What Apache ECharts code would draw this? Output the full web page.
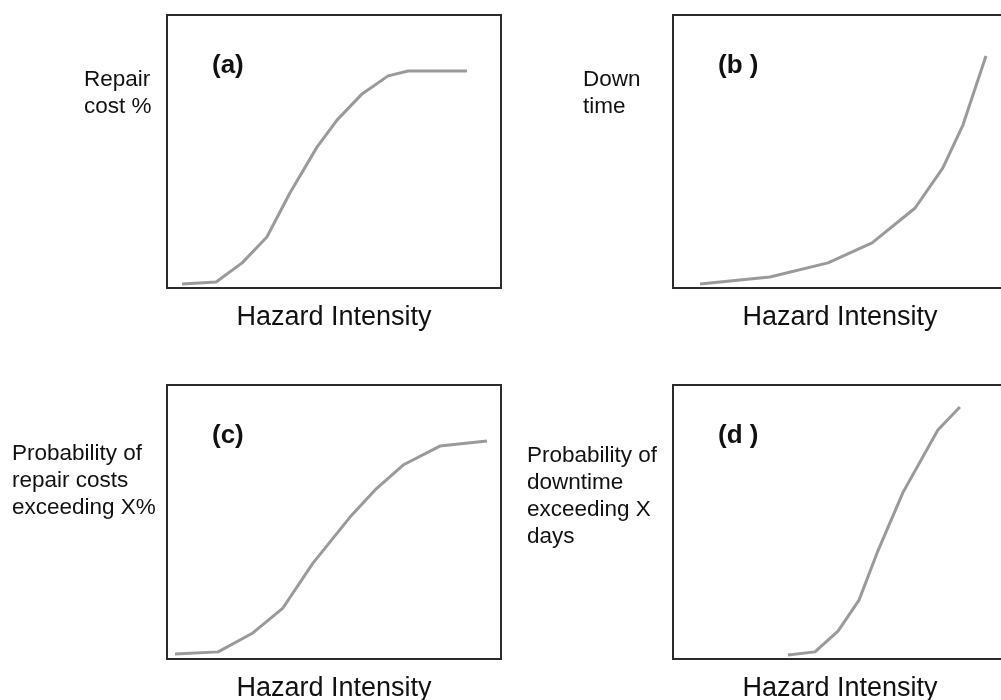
<!DOCTYPE html>
<html>
<head>
<meta charset="utf-8">
<title>Hazard Intensity curves</title>
<script src="https://cdn.jsdelivr.net/npm/echarts@6/dist/echarts.min.js"></script>
<style>
  html, body { margin: 0; padding: 0; background: #fff; }
  #main { width: 1001px; height: 700px; }
</style>
</head>
<body>
<div id="main"></div>
<script>
// (a) 修复成本
var intensityA = [4.5, 14.7, 22.5, 29.9, 36.8, 44.9, 50.9, 58.4, 66.2, 72.2, 89.8];
var repairCost = [1.5, 2.2, 9.2, 18.7, 34.8, 51.6, 61.5, 71.1, 77.7, 79.5, 79.5];
// (b) 停工时间
var intensityB = [8.1, 29.0, 46.4, 59.6, 72.5, 80.8, 86.8, 93.7];
var downTime = [1.5, 4.0, 9.2, 16.5, 29.3, 44.0, 59.7, 85.0];
// (c) 修复成本超越概率
var intensityC = [2.4, 15.3, 25.7, 34.7, 43.7, 54.8, 62.3, 70.7, 81.7, 95.8];
var probRepair = [1.8, 2.6, 9.5, 18.6, 35.0, 51.8, 61.7, 70.8, 77.7, 79.6];
// (d) 停工时间超越概率
var intensityD = [34.4, 42.5, 49.4, 55.7, 61.1, 68.9, 79.3, 85.9];
var probDown = [1.5, 2.6, 10.2, 21.5, 38.7, 60.9, 83.6, 92.0];

var panelTags = ['(a)', '(b )', '(c)', '(d )'];
var yTitles = ['Repair\ncost %', 'Down\ntime', 'Probability of\nrepair costs\nexceeding X%', 'Probability of\ndowntime\nexceeding X\ndays'];
var xTitle = 'Hazard Intensity';

function zip(xs, ys) {
  var out = [];
  for (var i = 0; i < xs.length; i++) {
    out.push([xs[i], ys[i]]);
  }
  return out
}

var grids = [
  {left: 167, top: 15, width: 334, height: 273},
  {left: 673, top: 15, width: 334, height: 273},
  {left: 167, top: 385, width: 334, height: 274},
  {left: 673, top: 385, width: 334, height: 274}
];
var seriesData = [zip(intensityA, repairCost), zip(intensityB, downTime), zip(intensityC, probRepair), zip(intensityD, probDown)];

var font = '"Liberation Sans", Arial, sans-serif';
var option = {
  backgroundColor: '#fff',
  animation: false,
  grid: [],
  xAxis: [],
  yAxis: [],
  series: [],
  graphic: []
};

for (var i = 0; i < 4; i++) {
  var g = grids[i];
  option.grid.push({
    left: g.left, top: g.top, width: g.width, height: g.height,
    outerBoundsMode: 'none', containLabel: false,
    show: true, borderColor: '#2b2b2b', borderWidth: 2, backgroundColor: 'transparent'
  });
  option.xAxis.push({
    gridIndex: i, type: 'value', min: 0, max: 100,
    name: xTitle, nameLocation: 'middle', nameGap: 16,
    nameTextStyle: {fontFamily: font, fontSize: 27, color: '#111'},
    axisLine: {show: false}, axisTick: {show: false}, axisLabel: {show: false}, splitLine: {show: false}
  });
  option.yAxis.push({
    gridIndex: i, type: 'value', min: 0, max: 100,
    axisLine: {show: false}, axisTick: {show: false}, axisLabel: {show: false}, splitLine: {show: false}
  });
  option.series.push({
    type: 'line', xAxisIndex: i, yAxisIndex: i,
    data: seriesData[i], showSymbol: false, symbol: 'none',
    lineStyle: {color: '#9a9a9a', width: 3}
  });
}

// 面板标签与纵轴标题
var tagPos = [[212, 68], [718, 68], [212, 438], [718, 438]];
var titlePos = [[84, 66], [583, 66], [12, 440], [527, 442]];
for (var k = 0; k < 4; k++) {
  option.graphic.push({
    type: 'text', left: tagPos[k][0], top: tagPos[k][1] - 15,
    style: {text: panelTags[k], fontFamily: font, fontSize: 26, fontWeight: 'bold', fill: '#111'}
  });
  option.graphic.push({
    type: 'text', left: titlePos[k][0], top: titlePos[k][1],
    style: {text: yTitles[k], fontFamily: font, fontSize: 22.5, lineHeight: 27, fill: '#111'}
  });
}

var myChart = echarts.init(document.getElementById('main'));
myChart.setOption(option);
</script>
</body>
</html>
